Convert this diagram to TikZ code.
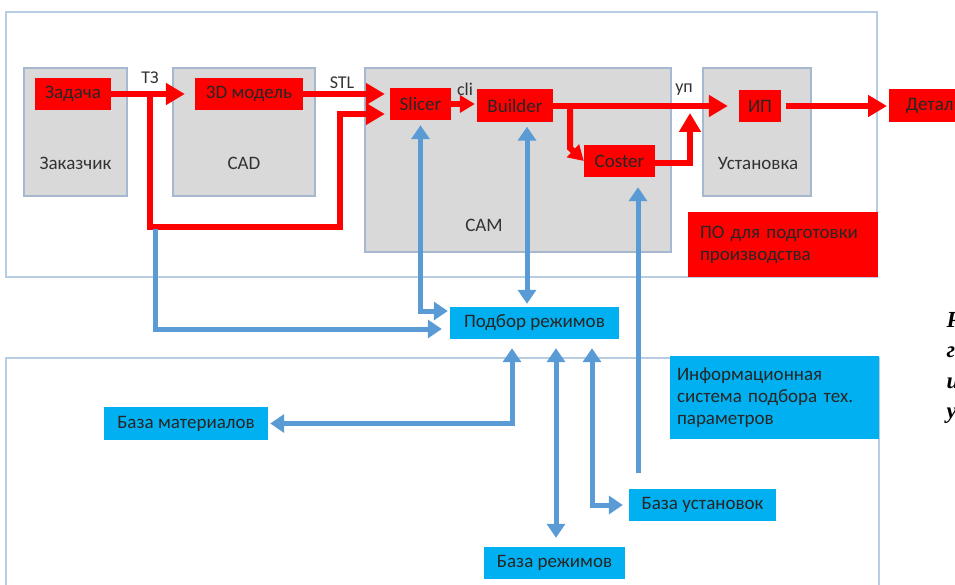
\documentclass[tikz,border=0pt]{standalone}
\usepackage{fontspec}
\setmainfont{Carlito}
\newfontfamily\capfont{Liberation Serif}
\usetikzlibrary{arrows.meta,positioning}

\definecolor{redbg}{RGB}{255,0,0}
\definecolor{cyanbg}{RGB}{0,176,240}
\definecolor{grayfill}{RGB}{217,217,217}
\definecolor{grayedge}{RGB}{166,184,206}
\definecolor{frameline}{RGB}{184,204,228}
\definecolor{bluearr}{RGB}{91,155,213}
\definecolor{labelgray}{RGB}{50,50,50}

\tikzset{
  unitbox/.style={draw=grayedge,line width=1.2pt,fill=grayfill,inner sep=0pt},
  redbox/.style={fill=redbg,inner sep=0pt,text=black!85,font=\fontsize{19}{22}\selectfont},
  cyanbox/.style={fill=cyanbg,inner sep=0pt,text=black!85,font=\fontsize{19}{22}\selectfont},
  unitlabel/.style={text=labelgray,font=\fontsize{19}{22}\selectfont},
  flowlabel/.style={text=labelgray,font=\fontsize{18}{20}\selectfont},
  redarrow/.style={draw=redbg,line width=6pt,-{Triangle[length=19pt,width=21pt]}},
  redsmall/.style={draw=redbg,line width=6pt,-{Triangle[length=15pt,width=17pt]}},
  bluearrow/.style={draw=bluearr,line width=5pt,-{Triangle[length=14pt,width=18pt]}},
  blueboth/.style={draw=bluearr,line width=5pt,{Triangle[length=14pt,width=18pt]}-{Triangle[length=14pt,width=18pt]}},
  capletter/.style={anchor=base west,font=\capfont\bfseries\itshape\fontsize{23}{26}\selectfont}
}

\begin{document}
\begin{tikzpicture}[x=1pt,y=-1pt]
\useasboundingbox (0,0) rectangle (955,585);
% frames
\draw[frameline,line width=1.5pt] (6,12) rectangle (877,277); % Frame.po
\draw[frameline,line width=1.5pt] (6,595) -- (6,358) -- (879,358) -- (879,595); % Frame.is

% units
\node[unitbox,minimum width=103pt,minimum height=128pt] (zak) at (75.5,132) {}; % Unit.zakazchik
\node[unitbox,minimum width=142pt,minimum height=128pt] (cad) at (244,132) {}; % Unit.cad
\node[unitbox,minimum width=306pt,minimum height=184pt] (cam) at (518,160) {}; % Unit.cam
\node[unitbox,minimum width=108pt,minimum height=128pt] (ust) at (757,132) {}; % Unit.ustanovka
\node[unitlabel] (zaklabel) at (75.5,163) {Заказчик};
\node[unitlabel] (cadlabel) at (244,163) {CAD};
\node[unitlabel] (camlabel) at (484,225) {CAM};
\node[unitlabel] (ustlabel) at (758,163) {Установка};

% red steps
\node[redbox,minimum width=76pt,minimum height=32pt] (task) at (73,94) {Задача};
\node[redbox,minimum width=108pt,minimum height=32pt] (model) at (249,94) {3D модель};
\node[redbox,minimum width=61pt,minimum height=32pt] (slicer) at (420.5,104) {Slicer};
\node[redbox,minimum width=76pt,minimum height=33pt] (builder) at (515,106) {Builder};
\node[redbox,minimum width=71pt,minimum height=32pt] (coster) at (619.5,161) {Coster};
\node[redbox,minimum width=42pt,minimum height=32pt] (ip) at (760,106) {ИП};
\node[redbox,anchor=west,minimum width=90pt,minimum height=33pt,align=left,inner xsep=9pt] (detail) at (889,106) {Деталь};
\node[redbox,minimum height=65pt,text width=166pt,inner xsep=12pt,align=left] (po) at (783,244.5) {ПО для подготовки\\производства};

% cyan blocks
\node[cyanbox,minimum width=169pt,minimum height=32pt] (podbor) at (534.5,323) {Подбор режимов};
\node[cyanbox,minimum width=164pt,minimum height=33pt] (bmat) at (186,423.5) {База материалов};
\node[cyanbox,minimum height=83pt,text width=195pt,inner xsep=7pt,align=left] (info) at (774.5,397.5) {Информационная\\система подбора тех.\\параметров};
\node[cyanbox,minimum width=147pt,minimum height=32pt] (bust) at (702.5,505) {База установок};
\node[cyanbox,minimum width=141pt,minimum height=32pt] (brej) at (554.5,563) {База режимов};

% red flow
\coordinate (tz) at (150,94);
\coordinate (br) at (570,106);
\coordinate (upin) at (690,113);
\draw[redarrow,shorten >=10pt] (task.east) -- (model.west);
\draw[redarrow,shorten >=5pt] (tz) |- (340,227) |- ([yshift=-10pt]slicer.west);
\draw[redarrow,shorten >=5pt] (model.east) -- ([yshift=10pt]slicer.west);
\draw[redsmall,shorten >=2pt] (slicer.east) -- (slicer.east -| builder.west);
\draw[redarrow,shorten >=11pt] (builder.east) -- (ip.west);
\draw[redsmall] (br) -- ++(0,42) -- (coster.west);
\draw[redarrow] ([yshift=-2pt]coster.east) -| (upin);
\draw[redarrow,shorten <=5pt,shorten >=2pt] (ip.east) -- (detail.west);
\node[flowlabel] (tzlabel) at (150,78) {ТЗ};
\node[flowlabel] (stllabel) at (342,83) {STL};
\node[flowlabel] (clilabel) at (465,89) {cli};
\node[flowlabel] (uplabel) at (684,90) {уп};

% blue links
\coordinate (tzbot) at (155,229);
\coordinate (cstart) at (638,473);
\draw[bluearrow,shorten >=8pt] (tzbot) |- ([yshift=-6pt]podbor.west);
\draw[blueboth,shorten <=5pt,shorten >=2pt] (slicer.south) |- ([yshift=12pt]podbor.west);
\draw[blueboth,shorten <=4pt,shorten >=3pt] ([xshift=12pt]builder.south) -- ([xshift=12pt]builder.south |- podbor.north);
\draw[bluearrow,shorten >=10pt] (cstart) -- (cstart |- coster.south);
\draw[blueboth,shorten <=9pt,shorten >=2pt] ([xshift=-22.5pt]podbor.south) |- (bmat.east);
\draw[blueboth,shorten <=9pt,shorten >=9pt] ([xshift=21.5pt]podbor.south) -- ([xshift=21.5pt]podbor.south |- brej.north);
\draw[blueboth,shorten <=9pt,shorten >=6pt] ([xshift=57.5pt]podbor.south) |- (bust.west);

% caption fragment
\node[capletter] (cap1) at (943,327) {Р};
\node[capletter] (cap2) at (943,357) {г};
\node[capletter] (cap3) at (943,388) {и};
\node[capletter] (cap4) at (943,418) {у};
\end{tikzpicture}
\end{document}
